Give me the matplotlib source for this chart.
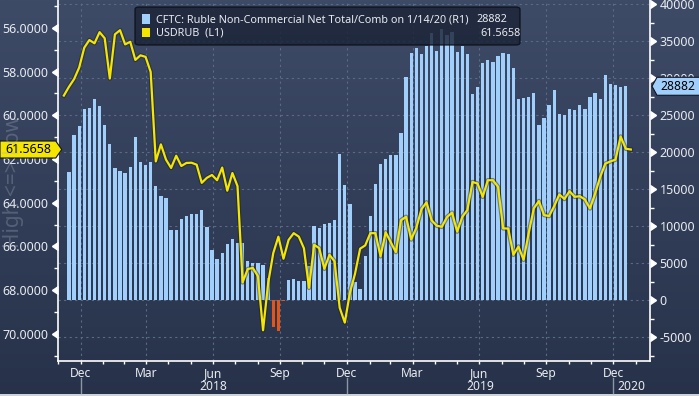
import matplotlib
matplotlib.use("Agg")
import matplotlib.pyplot as plt
import matplotlib.dates as mdates
import matplotlib.markers as mmarkers
import matplotlib.patheffects as pe
from matplotlib import transforms
from matplotlib.colors import LinearSegmentedColormap
from matplotlib.patches import Polygon, FancyBboxPatch, Rectangle
from matplotlib.lines import Line2D
import numpy as np
import pandas as pd

plt.rcParams["font.family"] = ["Noto Sans", "DejaVu Sans"]

# CFTC ruble non-commercial net positions, weekly report dates (Tuesdays)
report_dates = pd.date_range(end="2020-01-14", periods=110, freq="7D")
net_positions = [
    17300, 22300, 23500, 25800, 25950, 27150, 26200, 23650, 21100, 17850,
    17450, 17150, 18000, 22050, 18650, 18250, 18650, 15400, 14050, 13800,
    9450, 9450, 10950, 11350, 11600, 11600, 12150, 9850, 6750, 5550,
    6350, 7550, 8250, 7700, 7700, 5250, 5000, 5000, 4750, 2950,
    -3700, -4150, -150, 2700, 2850, 2550, 2550, 4600, 10000, 9750,
    10250, 10400, 10800, 19750, 15550, 12950, 2450, 1500, 5950, 11350,
    15700, 18400, 19050, 19600, 19600, 22550, 30150, 33400, 34050, 33250,
    34350, 36100, 33650, 36650, 35800, 36200, 33500, 34350, 33250, 27850,
    28800, 32050, 32450, 32150, 33000, 33400, 33250, 31350, 27150, 27300,
    27450, 28000, 23650, 24600, 26350, 28400, 25150, 25000, 25800, 25700,
    26350, 25800, 27450, 28000, 27150, 30400, 29200, 29050, 28800, 28882,
]

# USDRUB, weekly
usdrub_dates = pd.date_range(start="2017-12-05", end="2020-01-21", freq="7D")
usdrub = [
    59.10,
    58.70, 58.35, 57.82, 56.91, 56.56, 56.71, 56.20, 56.48, 58.32, 56.30,
    56.11, 56.76, 56.64, 57.47, 57.26, 57.33, 58.02, 62.11, 61.33, 62.03,
    62.41, 61.85, 62.32, 62.18, 62.17, 62.26, 63.09, 62.86, 62.73, 62.97,
    62.39, 63.45, 62.64, 63.24, 67.64, 67.03, 66.98, 67.36, 69.83, 67.67,
    66.30, 65.55, 66.56, 65.70, 65.39, 65.55, 66.08, 67.89, 65.92, 66.08,
    67.02, 66.38, 66.68, 68.80, 69.48, 68.12, 67.25, 66.10, 65.95, 65.39,
    65.39, 66.45, 65.35, 65.80, 66.26, 64.80, 64.64, 65.68, 65.15, 64.30,
    63.98, 64.80, 65.05, 65.10, 64.66, 64.45, 65.32, 64.65, 64.33, 63.05,
    63.12, 63.73, 62.97, 62.97, 63.27, 65.17, 65.18, 66.38, 66.00, 66.61,
    65.39, 64.26, 63.92, 64.56, 64.61, 64.15, 63.62, 63.83, 63.47, 63.73,
    63.70, 63.85, 64.26, 63.58, 62.82, 62.21, 62.11, 62.03, 60.97, 61.53,
    61.5658,
]

bar_label = "CFTC: Ruble Non-Commercial Net Total/Comb on 1/14/20 (R1)"
line_label = "USDRUB  (L1)"

BLUE = "#a0cffb"
ORANGE = "#e2561c"
YELLOW = "#f4e600"
TXT = "#e8ebf0"
GRID = "#5b6a85"

W, H = 699, 396
fig = plt.figure(figsize=(W / 100, H / 100), dpi=100)


def fx(px):
    return px / W


def fy(py):
    return 1 - py / H


# background gradient over the whole figure
bg = fig.add_axes([0, 0, 1, 1], zorder=-10)
cmap = LinearSegmentedColormap.from_list("bg", ["#3e4b67", "#27324a"])
bg.imshow(np.linspace(0, 1, 256).reshape(-1, 1), cmap=cmap, aspect="auto",
          extent=[0, 1, 0, 1])
bg.set_axis_off()
fig.add_artist(Rectangle((0, 0), 1, 2.5 / H, transform=fig.transFigure,
                         color="#cdd1d8", lw=0))

ax_bar = fig.add_axes([fx(58), fy(361), fx(650) - fx(58), fy(0) - fy(361)])
ax_line = ax_bar.twinx()
ax_bar.patch.set_visible(False)
ax_bar.yaxis.tick_right()
ax_line.yaxis.tick_left()

shift = pd.Timedelta(days=3)  # published on Friday
bar_x = mdates.date2num(report_dates + shift)
line_x = mdates.date2num(usdrub_dates + shift)

colors = [BLUE if v >= 0 else ORANGE for v in net_positions]
ax_bar.bar(bar_x, net_positions, width=4.5, color=colors, linewidth=0)

ax_line.plot(line_x, usdrub, color=YELLOW, lw=1.6,
             path_effects=[pe.Stroke(linewidth=3.2, foreground="#141c2c", alpha=0.45),
                           pe.Normal()])

x0 = mdates.date2num(pd.Timestamp("2017-12-06 12:00"))
x1 = mdates.date2num(pd.Timestamp("2020-02-19 06:00"))
ax_bar.set_xlim(x0, x1)
ax_bar.set_ylim(-8243, 40541)
ax_line.set_ylim(71.235, 54.73)

# x ticks at month ends, labels on quarter months
month_ends = pd.date_range("2017-12-01", "2020-02-01", freq="MS") - pd.Timedelta(days=1)
major = [d for d in month_ends if d.month in (3, 6, 9, 12)]
minor = [d for d in month_ends if d.month not in (3, 6, 9, 12)]
ax_bar.set_xticks(mdates.date2num(major))
ax_bar.set_xticklabels([d.strftime("%b") for d in major])
ax_bar.set_xticks(mdates.date2num(minor), minor=True)
ax_bar.tick_params(axis="x", which="both", direction="out", length=2.5, width=1,
                   color="white", labelsize=8.7, labelcolor=TXT, pad=1.5)

ax_bar.set_yticks(np.arange(-5000, 40001, 5000))
ax_bar.set_yticklabels([f"{v:d}" for v in range(-5000, 40001, 5000)])
ax_bar.set_yticks(np.arange(-7500, 40001, 2500), minor=True)
ax_bar.tick_params(axis="y", which="major", right=True, left=False, labelright=True,
                   labelleft=False, direction="out", length=4.5, width=1,
                   color="white", labelsize=9, labelcolor=TXT, pad=2.5)
ax_bar.tick_params(axis="y", which="minor", right=True, left=False, direction="out",
                   length=3, width=1, color="white")

ax_line.set_yticks(np.arange(56, 71, 2))
ax_line.set_yticklabels([f"{v:.4f}" for v in np.arange(56, 71, 2)])
ax_line.set_yticks(np.arange(55, 72, 1), minor=True)
ax_line.tick_params(axis="y", which="major", left=True, right=False, labelleft=True,
                    labelright=False, direction="out", length=4.5, width=1,
                    color="white", labelsize=9, labelcolor=TXT, pad=2.5)
ax_line.tick_params(axis="y", which="minor", left=True, right=False, direction="out",
                    length=3, width=1, color="white")

# caret style major ticks
for t in ax_line.yaxis.get_major_ticks():
    t.tick1line.set_marker(mmarkers.CARETLEFTBASE)
    t.tick1line.set_markersize(5.5)
    t.tick1line.set_markerfacecolor("white")
    t.tick1line.set_markeredgecolor("white")
for t in ax_bar.yaxis.get_major_ticks():
    t.tick2line.set_marker(mmarkers.CARETRIGHTBASE)
    t.tick2line.set_markersize(5.5)
    t.tick2line.set_markerfacecolor("white")
    t.tick2line.set_markeredgecolor("white")

ax_bar.set_axisbelow(True)
ax_bar.grid(True, which="major", color=GRID, ls=(0, (2, 3)), lw=0.8)

for s in ax_bar.spines.values():
    s.set_visible(False)
ax_line.spines["top"].set_visible(False)
for k in ("left", "right", "bottom"):
    ax_line.spines[k].set_color("white")
    ax_line.spines[k].set_linewidth(1.2)

# year separators and labels
sep = transforms.blended_transform_factory(ax_bar.transData, fig.transFigure)
dec_ticks = [d for d in major if d.month == 12]
for d in dec_ticks:
    fig.add_artist(Line2D([mdates.date2num(d)] * 2, [fy(393), fy(378)],
                          transform=sep, color="#8d96a6", lw=1))
year_spans = [(dec_ticks[0], dec_ticks[1], "2018"), (dec_ticks[1], dec_ticks[2], "2019")]
for a, b, lab in year_spans:
    mid = (mdates.date2num(a) + mdates.date2num(b)) / 2
    fig.text(mid, fy(387), lab, transform=sep, ha="center", va="center",
             fontsize=8.7, color=TXT)
fig.text((mdates.date2num(dec_ticks[2]) + x1) / 2, fy(387), "2020", transform=sep,
         ha="center", va="center", fontsize=8.7, color=TXT)

# inverted axis hint
fig.text(fx(14), fy(182), "High <=> Low", rotation=90, ha="center", va="center",
         fontsize=15, color="#a9b1c2", alpha=0.3)

# last-value tags
ident = transforms.IdentityTransform()
sx, sy = ax_line.transData.transform((x0, usdrub[-1]))
fig.add_artist(Polygon([(0, sy - 8.5), (sx - 7, sy - 8.5), (sx - 1, sy),
                        (sx - 7, sy + 8.5), (0, sy + 8.5)], closed=True,
                       transform=ident, facecolor=YELLOW, edgecolor="#10151f", lw=0.8))
fig.text((sx - 7) / 2 + 1, sy, f"{usdrub[-1]:.4f}", transform=ident, ha="center",
         va="center", fontsize=9, color="black")

rx, ry = ax_bar.transData.transform((x1, net_positions[-1]))
fig.add_artist(Polygon([(rx + 2, ry), (rx + 7, ry - 9), (W + 5, ry - 9),
                        (W + 5, ry + 9), (rx + 7, ry + 9)], closed=True,
                       transform=ident, facecolor=BLUE, edgecolor="#10151f", lw=0.8))
fig.text((rx + 7 + W) / 2, ry, f"{net_positions[-1]:d}", transform=ident,
         ha="center", va="center", fontsize=8.7, color="black")

# legend box
fig.add_artist(FancyBboxPatch((fx(135), fy(45)), fx(520) - fx(135), fy(7) - fy(45),
                              boxstyle="round,pad=0,rounding_size=0.006",
                              transform=fig.transFigure, facecolor="#1b2437",
                              alpha=0.82, edgecolor="#0a0e16", lw=1))
fig.add_artist(Rectangle((fx(142), fy(24)), fx(150) - fx(142), fy(14) - fy(24),
                         transform=fig.transFigure, color=BLUE, lw=0))
fig.add_artist(Rectangle((fx(142), fy(37)), fx(150) - fx(142), fy(28) - fy(37),
                         transform=fig.transFigure, color=YELLOW, lw=0))
fig.text(fx(156), fy(19.5), bar_label, ha="left", va="center", fontsize=7.8, color=TXT)
fig.text(fx(156), fy(33), line_label, ha="left", va="center", fontsize=7.8, color=TXT)
fig.text(fx(476), fy(19.5), f"{net_positions[-1]:d}", ha="left", va="center",
         fontsize=7.8, color=TXT)
fig.text(fx(480), fy(33), f"{usdrub[-1]:.4f}", ha="left", va="center",
         fontsize=7.8, color=TXT)

fig.savefig("out.png", dpi=100)
